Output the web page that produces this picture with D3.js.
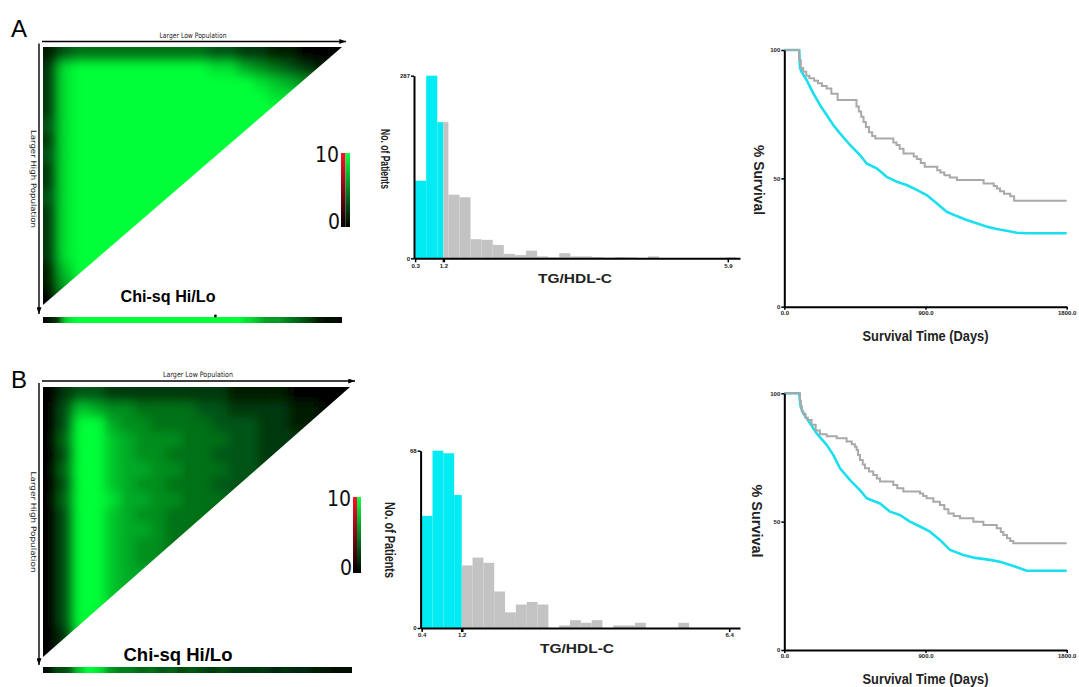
<!DOCTYPE html>
<html>
<head>
<meta charset="utf-8">
<script src="https://cdn.jsdelivr.net/npm/d3@7"></script>
<style>
body { margin: 0; background: #fff; }
text { font-family: "Liberation Sans", Arial, sans-serif; }
.narrow { font-family: "Liberation Sans Narrow", "Arial Narrow", "DejaVu Sans Condensed", sans-serif; }
.tick text { font-size: 6px; font-weight: bold; fill: #222; }
</style>
</head>
<body>
<svg id="fig" width="1079" height="687"></svg>
<script>
// ---- data ----
// chi-square heat maps, one string per row, one digit (0-9) per column
var heatA = [
  "13444444444332211000",
  "28999999999886543211",
  "28999999999999876543",
  "28999999999999988776",
  "28999999999999999888",
  "38999999999999999999",
  "28999999999999999999",
  "38999999999999999999",
  "28999999999999999999",
  "28999999999999999999",
  "38999999999999999999",
  "28999999999999999999",
  "28999999999999999999",
  "28999999999999999999",
  "28999999999999999999",
  "17999999999999999999",
  "16899999999999999999",
  "04899999999999999999"
];
var heatB = [
  "02332222222211110000",
  "03765544443322221100",
  "03996554444333221111",
  "04997655544433222222",
  "03997655444333222222",
  "04997665544433222222",
  "03997655444333222222",
  "04998665544433222222",
  "03997655444333222222",
  "03997665444333222222",
  "03997655444333222222",
  "03997655444333222222",
  "03997665444333222222",
  "03997655444333222222",
  "03997655444333222222",
  "03987554444333222222",
  "02876544444333222222",
  "02665444444333222222"
];
// Chi-sq Hi/Lo strips
var chiA = [0.5, 2, 8, 9, 9, 9, 9, 9, 9, 9, 9, 9, 9, 9, 9, 9, 9, 9, 9, 9, 8, 7, 5.5, 5.5, 4.5, 3.5, 2.5, 1, 0.5, 0.3];
var chiB = [0.5, 2.5, 3, 7, 9, 8, 5.5, 4.5, 4.5, 3.5, 4, 3, 3.5, 2.5, 3, 2.5, 2, 2.5, 2, 2, 1.8, 2, 1.3, 1.8, 1.3, 1.3, 1, 0.8, 0.6, 0.4];
var chiMarkA = 17.3;

// TG/HDL-C histograms (bins in bin units, cut point in the same units)
var histA_low = [122, 287, 214];
var histA_high = [214, 100, 96, 30, 29, 21, 7, 5, 12, 3, 1.5, 8, 3, 3, 2, 1, 2, 1.5, 0.5, 3, 0.5, 0, 0, 0, 0, 0, 1.5];
var histA_highStart = 2, histA_cut = 2.55, histA_max = 287;
var histA_tickPos = [0, 2.55, 28.2], histA_tickLab = ["0.3", "1.2", "5.9"];

var histB_low = [43, 68, 67, 51];
var histB_high = [24, 27, 25, 14, 6, 9, 10, 9, 0, 1, 3, 2, 3, 0, 1, 1, 2, 0, 0, 0, 2];
var histB_highStart = 3.7, histB_cut = 3.7, histB_max = 68;
var histB_tickPos = [0, 3.7, 28.4], histB_tickLab = ["0.4", "1.2", "6.4"];

// survival curves (days, % survival)
var grayA_t = [0, 95, 105, 120, 140, 160, 190, 215, 240, 270, 300, 340, 460, 475, 490, 505, 520, 540, 560, 580, 695, 715, 735, 760, 825, 845, 870, 895, 975, 995, 1020, 1055, 1100, 1270, 1335, 1355, 1375, 1400, 1440, 1465, 1800];
var grayA_s = [100, 96, 93, 91.5, 90, 89, 88, 87, 86, 85, 83, 80.5, 78, 76, 74, 72, 70, 68, 66.5, 65.5, 64, 63, 61.5, 59.7, 58.5, 57.5, 56, 54.5, 53.2, 52.3, 51.2, 50.3, 49.4, 48, 47, 46, 45, 44, 43, 41.3, 41.3];
var cyanA_t = [0, 95, 100, 110, 142, 185, 227, 270, 312, 355, 419, 482, 525, 589, 652, 716, 780, 844, 907, 971, 1035, 1099, 1162, 1226, 1290, 1354, 1417, 1481, 1545, 1800];
var cyanA_s = [100, 100, 93, 91.5, 88.3, 83.1, 78.6, 74.7, 70.8, 67.5, 63, 59.1, 55.8, 53.9, 50.6, 48.7, 47.4, 45.5, 43.5, 40.3, 37, 35.3, 33.8, 32.5, 31.2, 30.3, 29.6, 28.8, 28.6, 28.6];

var grayB_t = [0, 100, 105, 112, 121, 135, 150, 174, 200, 227, 270, 334, 397, 430, 450, 461, 470, 482, 500, 514, 540, 567, 590, 610, 695, 720, 759, 865, 885, 907, 950, 992, 1020, 1046, 1080, 1120, 1205, 1269, 1354, 1380, 1396, 1420, 1440, 1460, 1800];
var grayB_s = [100, 97, 95, 93, 92, 90.5, 89.6, 87.7, 85.5, 84, 83.3, 82.5, 81.2, 80.2, 79.2, 77.9, 76, 74, 72.3, 70.8, 69.5, 68.2, 66.8, 65.6, 64.3, 63, 61.7, 61, 60, 59.1, 57.8, 56.5, 54.8, 53.2, 52.2, 51.3, 50, 48.7, 47.4, 46, 44.8, 43.5, 42.5, 41.6, 41.6];
var cyanB_t = [0, 95, 100, 104, 121, 164, 206, 270, 312, 355, 419, 482, 525, 610, 674, 737, 801, 865, 929, 992, 1056, 1141, 1205, 1311, 1375, 1460, 1545, 1800];
var cyanB_s = [100, 100, 97, 94.8, 92.2, 88.3, 84.4, 79.9, 76, 70.8, 66.2, 62.3, 59.1, 57.1, 53.9, 52.6, 50, 48.1, 46.1, 42.9, 39, 37, 36, 35.1, 34.4, 32.7, 30.9, 30.9];

var survTicksY = [0, 50, 100], survTicksX = [0, 900, 1800];

// ---- drawing ----
var svg = d3.select("#fig");
var defs = svg.append("defs");
var heatColor = d3.scaleLinear().domain([0, 9]).range(["#000000", "#00ff38"]).clamp(true);

defs.append("filter").attr("id", "blur")
    .attr("x", "-10%").attr("y", "-10%").attr("width", "120%").attr("height", "120%")
  .append("feGaussianBlur").attr("stdDeviation", 5.5);
defs.append("filter").attr("id", "blurx")
  .append("feGaussianBlur").attr("stdDeviation", "3 0");

defs.append("marker").attr("id", "arrow")
    .attr("viewBox", "0 0 8 6").attr("refX", 8).attr("refY", 3)
    .attr("markerWidth", 7).attr("markerHeight", 5)
    .attr("orient", "auto").attr("markerUnits", "userSpaceOnUse")
  .append("path").attr("d", "M0,0L8,3L0,6Z").attr("fill", "#000");

function grad(id, col) {
  var lg = defs.append("linearGradient").attr("id", id)
      .attr("x1", 0).attr("y1", 0).attr("x2", 0).attr("y2", 1);
  lg.append("stop").attr("offset", "0%").attr("stop-color", col);
  lg.append("stop").attr("offset", "100%").attr("stop-color", "#000");
}
grad("gRed", "#ff1028");
grad("gGreen", "#12ff48");

function heatPanel(id, rows, chi, mark, L) {
  var nr = rows.length, nc = rows[0].length;
  var x = d3.scaleBand().domain(d3.range(nc)).range([L.x0, L.x1]);
  var y = d3.scaleBand().domain(d3.range(nr)).range([L.y0, L.y1]);
  var ext = 20;
  var cells = [];
  rows.forEach(function(s, r) {
    s.split("").forEach(function(ch, c) { cells.push({r: r, c: c, v: +ch}); });
  });

  defs.append("clipPath").attr("id", id + "tri")
    .append("polygon").attr("points", [[L.x0, L.y0], [L.x1, L.y0], [L.x0, L.y1]].join(" "));
  var g = svg.append("g").attr("clip-path", "url(#" + id + "tri)")
    .append("g").attr("filter", "url(#blur)");
  // edge cells are stretched outwards so the blur does not fade at the border
  g.selectAll("rect").data(cells).enter().append("rect")
      .attr("x", function(d) { return x(d.c) - (d.c == 0 ? ext : 0); })
      .attr("y", function(d) { return y(d.r) - (d.r == 0 ? ext : 0); })
      .attr("width", function(d) { return x.bandwidth() + 0.6 + (d.c == 0 || d.c == nc - 1 ? ext : 0); })
      .attr("height", function(d) { return y.bandwidth() + 0.6 + (d.r == 0 || d.r == nr - 1 ? ext : 0); })
      .attr("fill", function(d) { return heatColor(d.v); });

  // chi-square strip
  var xb = d3.scaleLinear().domain([0, chi.length]).range([L.x0, L.bx1]);
  defs.append("clipPath").attr("id", id + "bar")
    .append("rect").attr("x", L.x0).attr("y", L.by).attr("width", L.bx1 - L.x0).attr("height", 6);
  var gb = svg.append("g").attr("clip-path", "url(#" + id + "bar)")
    .append("g").attr("filter", "url(#blurx)");
  gb.selectAll("rect").data(chi).enter().append("rect")
      .attr("x", function(d, i) { return xb(i) - (i == 0 ? 10 : 0); })
      .attr("y", L.by)
      .attr("width", function(d, i) { return xb(i + 1) - xb(i) + 0.6 + (i == 0 || i == chi.length - 1 ? 10 : 0); })
      .attr("height", 6)
      .attr("fill", function(d) { return heatColor(d); });
  if (mark != null) {
    svg.append("circle").attr("cx", xb(mark)).attr("cy", L.by - 1).attr("r", 1.4).attr("fill", "#000");
  }

  // arrows and their labels
  svg.append("line").attr("x1", L.x0 - 1).attr("x2", L.ax1).attr("y1", L.ay).attr("y2", L.ay)
      .attr("stroke", "#000").attr("stroke-width", 1.4).attr("marker-end", "url(#arrow)");
  svg.append("line").attr("x1", L.lx).attr("x2", L.lx).attr("y1", L.ay + 2).attr("y2", L.ly1)
      .attr("stroke", "#000").attr("stroke-width", 1.4).attr("marker-end", "url(#arrow)");
  svg.append("text").attr("class", "narrow").attr("x", L.tx).attr("y", L.ay - 4)
      .attr("text-anchor", "middle").attr("font-size", 7.5).attr("fill", "#222")
      .attr("textLength", L.tw).attr("lengthAdjust", "spacingAndGlyphs")
      .text("Larger Low Population");
  svg.append("text").attr("class", "narrow")
      .attr("transform", "translate(" + (L.lx - 8) + "," + L.sy + ") rotate(90)")
      .attr("text-anchor", "middle").attr("font-size", 7.5).attr("fill", "#222")
      .attr("textLength", L.sw).attr("lengthAdjust", "spacingAndGlyphs")
      .text("Larger High Population");

  svg.append("text").attr("x", L.cx).attr("y", L.cy)
      .attr("text-anchor", "middle").attr("font-size", L.cs).attr("font-weight", "bold")
      .attr("textLength", L.cw).attr("lengthAdjust", "spacingAndGlyphs")
      .text("Chi-sq Hi/Lo");

  // colour key
  var hw = L.kw / 2;
  svg.append("rect").attr("x", L.kx).attr("y", L.ky).attr("width", hw).attr("height", L.kh).attr("fill", "url(#gRed)");
  svg.append("rect").attr("x", L.kx + hw).attr("y", L.ky).attr("width", hw).attr("height", L.kh).attr("fill", "url(#gGreen)");
  svg.append("text").attr("class", "narrow").attr("x", L.kx - 2).attr("y", L.ky + 9)
      .attr("text-anchor", "end").attr("font-size", 21).attr("fill", "#111").text("10");
  svg.append("text").attr("class", "narrow").attr("x", L.kx - 1).attr("y", L.ky + L.kh + 2)
      .attr("text-anchor", "end").attr("font-size", 21).attr("fill", "#111").text("0");
}

function styleAxis(a) {
  a.select(".domain").attr("stroke", "#000").attr("stroke-width", 2);
  a.selectAll(".tick line").attr("stroke", "#000").attr("stroke-width", 1.5);
}

function histogram(low, high, highStart, cut, yMax, tickPos, tickLab, L) {
  var x = d3.scaleLinear().domain(L.xd).range(L.xr);
  var y = d3.scaleLinear().domain([0, yMax]).range(L.yr);
  var lowBins = low.map(function(v, i) { return {x0: i, x1: Math.min(i + 1, cut), v: v}; });
  var highBins = high.map(function(v, i) {
    return {x0: Math.max(highStart + i, cut), x1: highStart + i + 1, v: v};
  }).filter(function(d) { return d.v > 0; });

  var g = svg.append("g");
  g.selectAll(".lo").data(lowBins).enter().append("rect").attr("class", "lo")
      .attr("x", function(d) { return x(d.x0); })
      .attr("width", function(d) { return x(d.x1) - x(d.x0); })
      .attr("y", function(d) { return y(d.v); })
      .attr("height", function(d) { return y(0) - y(d.v); })
      .attr("fill", "#00ebf3");
  g.selectAll(".hi").data(highBins).enter().append("rect").attr("class", "hi")
      .attr("x", function(d) { return x(d.x0); })
      .attr("width", function(d) { return x(d.x1) - x(d.x0); })
      .attr("y", function(d) { return y(d.v); })
      .attr("height", function(d) { return y(0) - y(d.v); })
      .attr("fill", "#c3c3c3");

  var ya = g.append("g").attr("transform", "translate(" + L.xr[0] + ",0)")
      .call(d3.axisLeft(y).tickValues([0, yMax]).tickSize(3).tickSizeOuter(0).tickPadding(1));
  styleAxis(ya);
  var xa = g.append("g").attr("transform", "translate(0," + L.yr[0] + ")")
      .call(d3.axisBottom(x).tickValues(tickPos).tickSize(4).tickSizeOuter(0).tickPadding(1)
        .tickFormat(function(d, i) { return tickLab[i]; }));
  styleAxis(xa);
  xa.selectAll(".tick line").attr("stroke-width", function(d, i) { return i == 1 ? 2.5 : 1.5; });

  g.append("text")
      .attr("transform", "translate(" + L.px + "," + L.py + ") rotate(90)")
      .attr("text-anchor", "middle").attr("dy", "0.35em")
      .attr("font-size", L.ps).attr("font-weight", "bold").attr("fill", "#222")
      .attr("textLength", L.pw).attr("lengthAdjust", "spacingAndGlyphs")
      .text("No. of Patients");
  g.append("text").attr("x", L.tx).attr("y", L.ty)
      .attr("text-anchor", "middle").attr("font-size", 13).attr("font-weight", "bold").attr("fill", "#222")
      .attr("textLength", 74).attr("lengthAdjust", "spacingAndGlyphs")
      .text("TG/HDL-C");
}

function survival(gt, gs, ct, cs, L) {
  var x = d3.scaleLinear().domain([0, 1800]).range(L.xr);
  var y = d3.scaleLinear().domain([0, 100]).range(L.yr);
  var g = svg.append("g");
  var cyan = d3.line().x(function(d) { return x(d[0]); }).y(function(d) { return y(d[1]); });
  var step = d3.line().curve(d3.curveStepAfter).x(function(d) { return x(d[0]); }).y(function(d) { return y(d[1]); });

  g.append("path").datum(d3.zip(ct, cs)).attr("d", cyan)
      .attr("fill", "none").attr("stroke", "#19dfee").attr("stroke-width", 2.6).attr("stroke-linejoin", "round");
  g.append("path").datum(d3.zip(gt, gs)).attr("d", step)
      .attr("fill", "none").attr("stroke", "#a9a9a9").attr("stroke-width", 2);

  var ya = g.append("g").attr("transform", "translate(" + L.xr[0] + ",0)")
      .call(d3.axisLeft(y).tickValues(survTicksY).tickSize(3).tickSizeOuter(0).tickPadding(1));
  styleAxis(ya);
  var xa = g.append("g").attr("transform", "translate(0," + L.yr[0] + ")")
      .call(d3.axisBottom(x).tickValues(survTicksX).tickSize(3).tickSizeOuter(0).tickPadding(1)
        .tickFormat(d3.format(".1f")));
  styleAxis(xa);

  g.append("text")
      .attr("transform", "translate(" + L.px + "," + L.py + ") rotate(90)")
      .attr("text-anchor", "middle").attr("dy", "0.35em")
      .attr("font-size", 15).attr("font-weight", "bold").attr("fill", "#222")
      .attr("textLength", L.pw).attr("lengthAdjust", "spacingAndGlyphs")
      .text("% Survival");
  g.append("text").attr("x", (L.xr[0] + L.xr[1]) / 2).attr("y", L.ty)
      .attr("text-anchor", "middle").attr("font-size", 15).attr("font-weight", "bold").attr("fill", "#222")
      .attr("textLength", 126).attr("lengthAdjust", "spacingAndGlyphs")
      .text("Survival Time (Days)");
}

// panel letters
svg.append("text").attr("x", 11).attr("y", 37).attr("font-family", "Liberation Serif, Times New Roman, serif")
    .attr("font-size", 24).text("A");
svg.append("text").attr("x", 11).attr("y", 388).attr("font-family", "Liberation Serif, Times New Roman, serif")
    .attr("font-size", 24).text("B");

heatPanel("A", heatA, chiA, chiMarkA, {
  x0: 43, x1: 342, y0: 47, y1: 305, bx1: 342, by: 317,
  ay: 41.5, ax1: 346, tx: 193, tw: 67, lx: 39, ly1: 314, sy: 179, sw: 98,
  cx: 168, cy: 302, cs: 17, cw: 95,
  kx: 341, ky: 153, kw: 9, kh: 74
});
heatPanel("B", heatB, chiB, null, {
  x0: 43, x1: 350, y0: 387, y1: 657, bx1: 352, by: 667,
  ay: 381, ax1: 355, tx: 198, tw: 70, lx: 39, ly1: 665, sy: 522, sw: 101,
  cx: 178, cy: 661, cs: 19, cw: 109,
  kx: 353, ky: 497, kw: 8, kh: 76
});

histogram(histA_low, histA_high, histA_highStart, histA_cut, histA_max, histA_tickPos, histA_tickLab, {
  xd: [-0.1, 29.3], xr: [414, 740], yr: [258.3, 75.7],
  px: 386, py: 159, ps: 13, pw: 60, tx: 575, ty: 283
});
histogram(histB_low, histB_high, histB_highStart, histB_cut, histB_max, histB_tickPos, histB_tickLab, {
  xd: [-0.1, 29.4], xr: [420.6, 740], yr: [628, 450.7],
  px: 390, py: 540, ps: 14, pw: 76, tx: 577, ty: 653
});

survival(grayA_t, grayA_s, cyanA_t, cyanA_s, {
  xr: [784.3, 1066.7], yr: [306.7, 50], px: 759, py: 180, pw: 70, ty: 341
});
survival(grayB_t, grayB_s, cyanB_t, cyanB_s, {
  xr: [784.3, 1066.7], yr: [650, 393.3], px: 757, py: 521, pw: 73, ty: 684
});
</script>
</body>
</html>
